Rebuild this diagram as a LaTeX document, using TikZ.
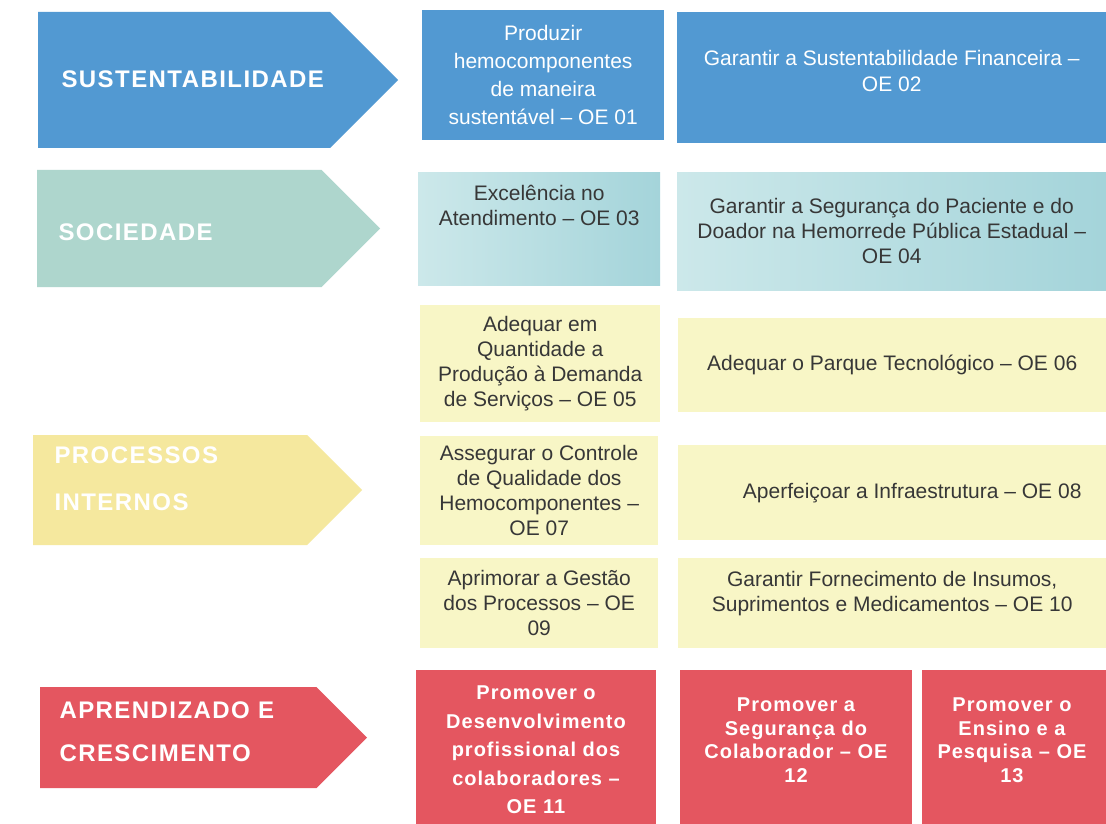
\documentclass[tikz,border=0pt]{standalone}
\usepackage{fontspec}
\setmainfont{Liberation Sans}
\usepackage{xcolor}
\usetikzlibrary{calc}

\definecolor{bscblue}{RGB}{82,153,210}
\definecolor{socarrow}{RGB}{174,214,205}
\definecolor{socleft}{RGB}{204,232,234}
\definecolor{socright}{RGB}{164,212,218}
\definecolor{procarrow}{RGB}{245,232,158}
\definecolor{procbox}{RGB}{248,246,198}
\definecolor{aprred}{RGB}{228,86,96}
\definecolor{txtgray}{RGB}{55,55,55}

\tikzset{
  objbox/.style={anchor=north west, inner sep=0pt, align=center,
    font=\fontsize{21}{25}\selectfont, text=txtgray},
  redbox/.style={objbox, fill=aprred, text=white,
    font=\fontsize{20}{23.5}\selectfont\bfseries\addfontfeatures{LetterSpace=5}},
  perslabel/.style={anchor=west, align=left, text=white,
    font=\fontsize{24}{47}\selectfont\bfseries\addfontfeatures{LetterSpace=6}}
}

\begin{document}
\begin{tikzpicture}[x=1pt,y=-1pt]

        \useasboundingbox[fill=white] (0,0) rectangle (1106,824);

        % Perspective arrows
        \foreach \l/\t/\b/\tip/\col in {38/12/148/398/bscblue, 37/170/287/380/socarrow,
                                        33/435/545/362/procarrow, 40/687/788/367/aprred}
        {
          \fill[\col] (\l,\t) -- ({\tip-(\b-\t)/2},\t) -- (\tip,{(\t+\b)/2})
                -- ({\tip-(\b-\t)/2},\b) -- (\l,\b) -- cycle;
        }

        \node[perslabel] (sust) at (58,79) {SUSTENTABILIDADE};
        \node[perslabel] (soc) at (55,232) {SOCIEDADE};
        \node[perslabel] (proc) at (51,479) {PROCESSOS\\INTERNOS};
        \node[perslabel, font=\fontsize{24}{43}\selectfont\bfseries\addfontfeatures{LetterSpace=6}]
              (apr) at (56,732) {APRENDIZADO E\\CRESCIMENTO};

        % Sustentabilidade
        \node[objbox, fill=bscblue, text=white, minimum width=242pt, minimum height=130pt,
              font=\fontsize{21}{28}\selectfont] (oe01) at (422,10)
              {Produzir\\hemocomponentes\\de maneira\\sustentável – OE 01};
        \node[objbox, fill=bscblue, text=white, minimum width=429pt, minimum height=131pt,
              font=\fontsize{21}{26}\selectfont] (oe02) at (677,12) {};
        \node[align=center, text=white, font=\fontsize{21}{26}\selectfont] (oe02t)
              at ($(oe02.center)+(0,-7)$) {Garantir a Sustentabilidade Financeira –\\OE 02};

        % Sociedade
        \node[objbox, left color=socleft, right color=socright, minimum width=242pt,
              minimum height=113pt] (oe03) at (418,172) {};
        \node[align=center, text=txtgray, font=\fontsize{21}{25}\selectfont, anchor=north]
              (oe03t) at ($(oe03.north)+(0,10)$) {Excelência no\\Atendimento – OE 03};
        \node[objbox, left color=socleft, right color=socright, minimum width=429pt,
              minimum height=118pt] (oe04) at (677,172)
              {Garantir a Segurança do Paciente e do\\Doador na Hemorrede Pública Estadual –\\OE 04};

        % Processos internos
        \node[objbox, fill=procbox, minimum width=240pt, minimum height=117pt] (oe05) at (420,305)
              {Adequar em\\Quantidade a\\Produção à Demanda\\de Serviços – OE 05};
        \node[objbox, fill=procbox, minimum width=428pt, minimum height=94pt] (oe06) at (678,318)
              {Adequar o Parque Tecnológico – OE 06};
        \node[objbox, fill=procbox, minimum width=238pt, minimum height=109pt] (oe07) at (420,436)
              {Assegurar o Controle\\de Qualidade dos\\Hemocomponentes –\\OE 07};
        \node[objbox, fill=procbox, minimum width=428pt, minimum height=95pt] (oe08) at (678,445)
              {\hspace*{40pt}Aperfeiçoar a Infraestrutura – OE 08};
        \node[objbox, fill=procbox, minimum width=238pt, minimum height=90pt] (oe09) at (420,558)
              {Aprimorar a Gestão\\dos Processos – OE\\09};
        \node[objbox, fill=procbox, minimum width=428pt, minimum height=90pt] (oe10) at (678,558) {};
        \node[align=center, text=txtgray, font=\fontsize{21}{25}\selectfont] (oe10t)
              at ($(oe10.center)+(0,-10)$) {Garantir Fornecimento de Insumos,\\Suprimentos e Medicamentos – OE 10};

        % Aprendizado e crescimento
        \node[redbox, minimum width=240pt, minimum height=160pt,
              font=\fontsize{20}{28.5}\selectfont\bfseries\addfontfeatures{LetterSpace=5}] (oe11) at (416,670) {};
        \node[align=center, text=white,
              font=\fontsize{20}{28.5}\selectfont\bfseries\addfontfeatures{LetterSpace=5}] (oe11t)
              at (536,750) {Promover o\\Desenvolvimento\\profissional dos\\colaboradores –\\OE 11};
        \node[redbox, minimum width=232pt, minimum height=160pt] (oe12) at (680,670) {};
        \node[align=center, text=white,
              font=\fontsize{20}{23.5}\selectfont\bfseries\addfontfeatures{LetterSpace=5}] (oe12t)
              at (796,740) {Promover a\\Segurança do\\Colaborador – OE\\12};
        \node[redbox, minimum width=184pt, minimum height=160pt] (oe13) at (922,670) {};
        \node[align=center, text=white,
              font=\fontsize{20}{23.5}\selectfont\bfseries\addfontfeatures{LetterSpace=5}] (oe13t)
              at (1012,740) {Promover o\\Ensino e a\\Pesquisa – OE\\13};

\end{tikzpicture}
\end{document}
